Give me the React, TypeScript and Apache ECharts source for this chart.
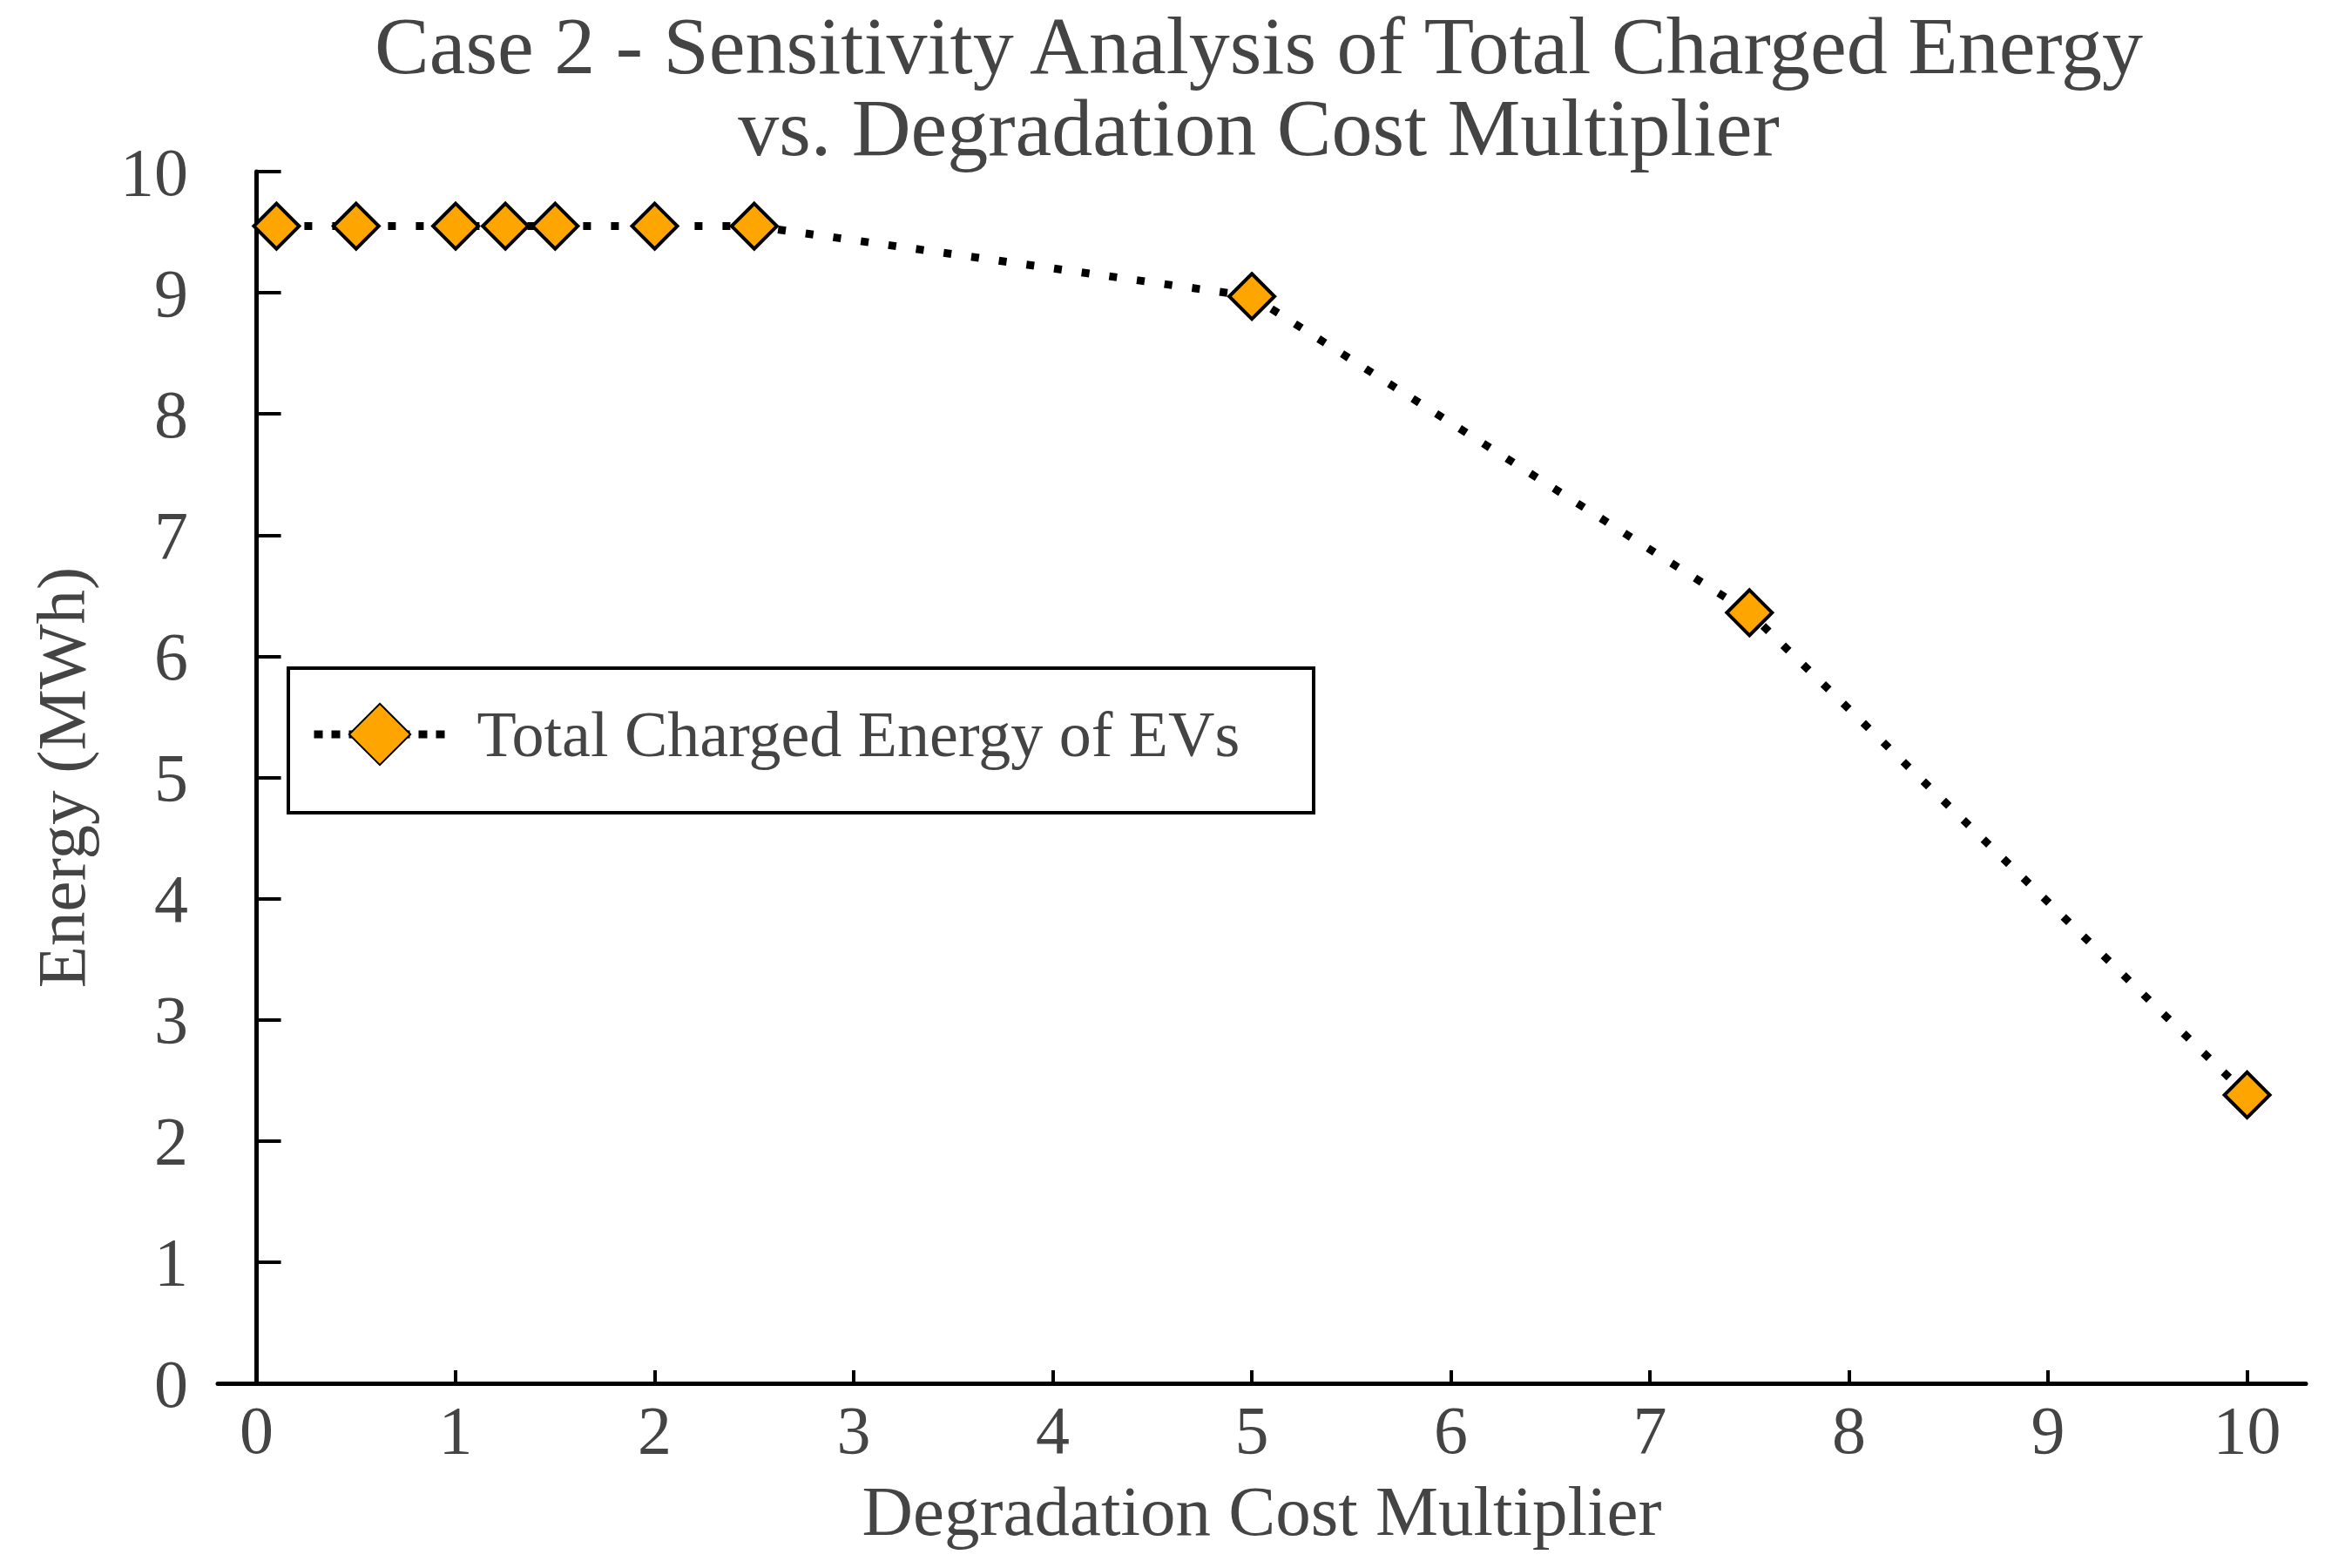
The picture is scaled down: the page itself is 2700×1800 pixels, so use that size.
import React, { useEffect, useRef } from "react";
import * as echarts from "echarts";

const multipliers = [0.1, 0.5, 1, 1.25, 1.5, 2, 2.5, 5, 7.5, 10];
const energyMWh = [9.55, 9.55, 9.55, 9.55, 9.55, 9.55, 9.55, 8.97, 6.36, 2.38];
const xTickValues = [0, 1, 2, 3, 4, 5, 6, 7, 8, 9, 10];
const seriesName = "Total Charged Energy of EVs";
const titleLines = [
  "Case 2 - Sensitivity Analysis of Total Charged Energy",
  "vs. Degradation Cost Multiplier",
];
const xAxisTitle = "Degradation Cost Multiplier";
const yAxisTitle = "Energy (MWh)";

export default function App() {
  const ref = useRef<HTMLDivElement>(null);
  useEffect(() => {
    const chart = echarts.init(ref.current!, null, { renderer: "svg" });
    const font = "'Liberation Serif', 'Times New Roman', serif";
    const textColor = "#444444";
    const titleStyle = {
      fontFamily: font,
      fontSize: 94,
      fontWeight: "normal",
      color: textColor,
      lineHeight: 94,
    };
    chart.setOption({
      animation: false,
      backgroundColor: "#ffffff",
      title: {
        text: titleLines[0],
        subtext: titleLines[1],
        left: 1445,
        top: 5,
        padding: 0,
        itemGap: 0,
        textAlign: "center",
        textStyle: titleStyle,
        subtextStyle: titleStyle,
      },
      grid: { left: 250, right: 53, top: 197, bottom: 212, containLabel: false },
      graphic: [
        {
          type: "rect",
          z: 0,
          shape: { x: 331, y: 767, width: 1177, height: 166 },
          style: { fill: "#ffffff", stroke: "#000000", lineWidth: 4 },
        },
      ],
      legend: {
        data: [seriesName],
        left: 356,
        top: 806,
        padding: 0,
        itemWidth: 151,
        itemHeight: 88,
        z: 5,
        lineStyle: { color: "#000000", width: 9, type: [10, 10], cap: "butt" },
        textStyle: {
          fontFamily: font,
          fontSize: 74,
          color: textColor,
          padding: [0, 0, 0, 31],
        },
      },
      xAxis: {
        type: "value",
        min: -0.195,
        max: 10.295,
        name: xAxisTitle,
        nameLocation: "middle",
        nameGap: 106,
        nameTextStyle: { fontFamily: font, fontSize: 81, color: textColor },
        axisLine: { show: true, onZero: false, lineStyle: { color: "#000000", width: 5 } },
        axisTick: {
          show: true,
          inside: true,
          length: 15,
          customValues: xTickValues,
          lineStyle: { color: "#000000", width: 4 },
        },
        axisLabel: {
          customValues: xTickValues,
          fontFamily: font,
          fontSize: 78,
          color: textColor,
          margin: 14,
        },
        splitLine: { show: false },
      },
      yAxis: {
        type: "value",
        min: 0,
        max: 10,
        interval: 1,
        name: yAxisTitle,
        nameLocation: "middle",
        nameGap: 140,
        nameTextStyle: { fontFamily: font, fontSize: 79, color: textColor },
        axisLine: { show: true, lineStyle: { color: "#000000", width: 5 } },
        axisTick: { show: true, inside: true, length: 28, lineStyle: { color: "#000000", width: 4 } },
        axisLabel: { fontFamily: font, fontSize: 78, color: textColor, margin: 34 },
        splitLine: { show: false },
      },
      series: [
        {
          name: seriesName,
          type: "line",
          data: multipliers.map((x, i) => [x, energyMWh[i]]),
          symbol: "diamond",
          symbolSize: 52,
          showAllSymbol: true,
          itemStyle: { color: "#FFA500", borderColor: "#000000", borderWidth: 4 },
          lineStyle: { color: "#000000", width: 9, type: [9, 23], cap: "butt" },
          emphasis: { disabled: true },
          z: 3,
        },
      ],
    });
    return () => chart.dispose();
  }, []);
  return (
    <div
      ref={ref}
      style={{ position: "absolute", left: 0, top: 0, width: 2700, height: 1800 }}
    />
  );
}
